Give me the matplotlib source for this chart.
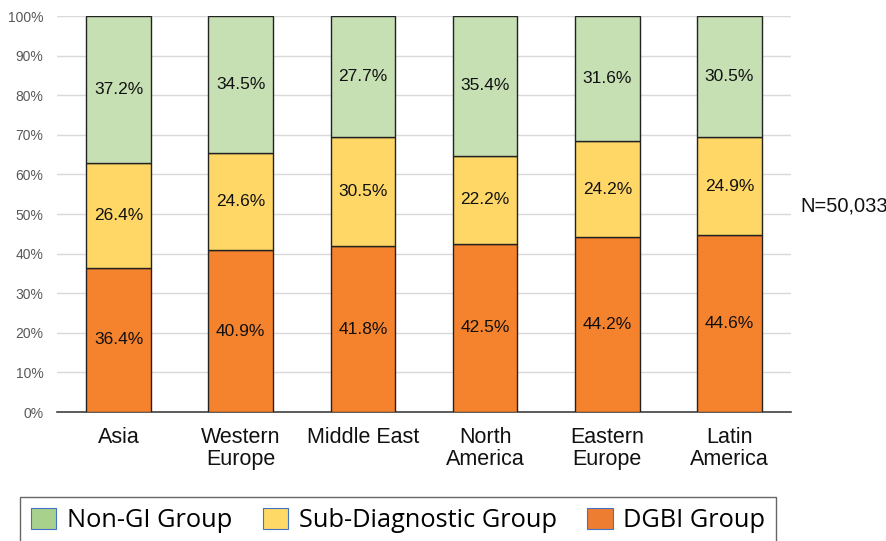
import matplotlib
matplotlib.use("Agg")
import matplotlib.pyplot as plt
from matplotlib.patches import Patch
import numpy as np

regions = ["Asia", "Western\nEurope", "Middle East", "North\nAmerica", "Eastern\nEurope", "Latin\nAmerica"]
# segment heights as drawn in the picture (%)
dgbi = [36.4, 40.9, 41.8, 42.5, 44.2, 44.6]
subdiag = [26.4, 24.6, 27.7, 22.2, 24.2, 24.9]
nongi = [37.2, 34.5, 30.5, 35.4, 31.6, 30.5]
# data labels as printed on the picture
dgbi_lbl = ["36.4%", "40.9%", "41.8%", "42.5%", "44.2%", "44.6%"]
subdiag_lbl = ["26.4%", "24.6%", "30.5%", "22.2%", "24.2%", "24.9%"]
nongi_lbl = ["37.2%", "34.5%", "27.7%", "35.4%", "31.6%", "30.5%"]
yticks = [0, 10, 20, 30, 40, 50, 60, 70, 80, 90, 100]
n_label = "N=50,033"
legend_labels = ["Non-GI Group", "Sub-Diagnostic Group", "DGBI Group"]

c_orange = "#F5822C"
c_yellow = "#FFD766"
c_green = "#C6E0B4"

fig = plt.figure(figsize=(8.87, 5.41), dpi=100)
W, H = 887, 541
ax = fig.add_axes([57.5 / W, 1 - 412 / H, (790.5 - 57.5) / W, (412 - 16) / H])

x = np.arange(len(regions))
bw = 0.53
ek = dict(edgecolor="#222222", linewidth=1.0, zorder=3)
ax.bar(x, dgbi, bw, color=c_orange, **ek)
ax.bar(x, subdiag, bw, bottom=dgbi, color=c_yellow, **ek)
bot3 = [a + b for a, b in zip(dgbi, subdiag)]
ax.bar(x, nongi, bw, bottom=bot3, color=c_green, **ek)

tk = dict(ha="center", va="center", fontsize=12.5, family="Liberation Sans", color="#111111", zorder=4)
for i in range(len(regions)):
    ax.text(x[i], dgbi[i] / 2, dgbi_lbl[i], **tk)
    ax.text(x[i], dgbi[i] + subdiag[i] / 2, subdiag_lbl[i], **tk)
    ax.text(x[i], bot3[i] + nongi[i] / 2, nongi_lbl[i], **tk)

ax.set_xlim(-0.5, len(regions) - 0.5)
ax.set_ylim(0, 100)
ax.set_yticks(yticks)
ax.set_yticklabels([f"{t}%" for t in yticks], fontsize=10, color="#595959", family="Liberation Sans")
ax.yaxis.grid(True, color="#D9D9D9", linewidth=1.0, zorder=0)
ax.set_axisbelow(True)
ax.tick_params(axis="y", length=0, pad=10)
ax.tick_params(axis="x", length=0, pad=11)
ax.set_xticks(x)
ax.set_xticklabels(regions, fontsize=15.5, family="Liberation Sans", color="#111111", linespacing=1.05)
for s in ["top", "right", "left"]:
    ax.spines[s].set_visible(False)
ax.spines["bottom"].set_color("#404040")
ax.spines["bottom"].set_linewidth(1.2)

fig.text(800 / W, 1 - 206 / H, n_label, ha="left", va="center", fontsize=14.5,
         family="Liberation Sans", color="#111111")

face = ["#A9D18E", "#FFD966", "#ED7D31"]
handles = [Patch(facecolor=f, edgecolor="#4472C4", linewidth=0.8, label=l)
           for f, l in zip(face, legend_labels)]
leg = fig.legend(handles=handles, loc="upper left", bbox_to_anchor=(20 / W, 1 - 497 / H),
                 ncol=3, frameon=True, fancybox=False,
                 prop={"family": "Open Sans", "size": 18.3},
                 handlelength=1.0, handleheight=0.92, handletextpad=0.42, columnspacing=1.2,
                 borderpad=0.42, borderaxespad=0)
leg.get_frame().set_edgecolor("#404040")
leg.get_frame().set_linewidth(1.0)

fig.savefig("out.png", dpi=100)
